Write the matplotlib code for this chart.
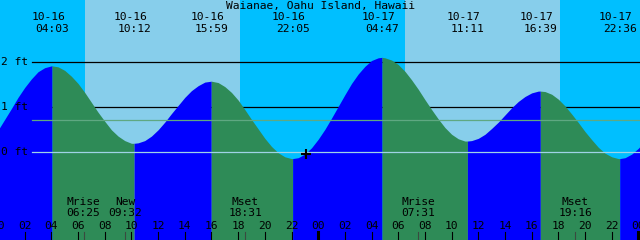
import matplotlib
matplotlib.use("Agg")
import matplotlib.pyplot as plt

# station / tide table (hi-lo events)
titulo = "Waianae, Oahu Island, Hawaii"
fechas_ev = ["10-16", "10-16", "10-16", "10-16", "10-17", "10-17", "10-17", "10-17"]
horas_ev = ["04:03", "10:12", "15:59", "22:05", "04:47", "11:11", "16:39", "22:36"]
alturas_ev = [1.92, 0.20, 1.58, -0.14, 2.11, 0.25, 1.36, -0.14]
es_alta = [True, False, True, False, True, False, True, False]

# heights (ft) every half hour, from 10-16 00:00 to 10-18 01:00
alturas = [0.49, 0.73, 0.97, 1.22, 1.44, 1.63, 1.79, 1.88, 1.92, 1.90,
           1.82, 1.69, 1.53, 1.33, 1.11, 0.89, 0.69, 0.50, 0.36, 0.26,
           0.20, 0.21, 0.26, 0.36, 0.50, 0.67, 0.86, 1.04, 1.22, 1.37,
           1.48, 1.56, 1.58, 1.55, 1.46, 1.33, 1.16, 0.95, 0.73, 0.52,
           0.31, 0.13, -0.01, -0.10, -0.14, -0.12, -0.04, 0.10, 0.29, 0.51,
           0.76, 1.02, 1.28, 1.53, 1.74, 1.91, 2.04, 2.10, 2.10, 2.05,
           1.95, 1.80, 1.61, 1.40, 1.17, 0.95, 0.74, 0.55, 0.40, 0.30,
           0.25, 0.26, 0.31, 0.40, 0.53, 0.67, 0.83, 0.99, 1.13, 1.24,
           1.32, 1.36, 1.35, 1.29, 1.18, 1.03, 0.85, 0.66, 0.46, 0.28,
           0.11, -0.02, -0.10, -0.14, -0.12, -0.04, 0.09, 0.26, 0.48]

# sun and moon
amanecer = ["06:31", "06:31"]
atardecer = ["18:08", "18:08"]
luna_dia = [0, 0, 0, 1, 1]
luna_hora = ["06:25", "09:32", "18:31", "07:31", "19:16"]
luna_txt = ["Mrise", "New", "Mset", "Mrise", "Mset"]

ahora = 23.05          # current-time marker
ahora_altura = -0.04
nivel_medio = 0.71     # mean sea level line


def a_horas(hhmm, dia=0):
    h, m = hhmm.split(":")
    return 24 * dia + int(h) + int(m) / 60


dias_ev = [0 if f == "10-16" else 1 for f in fechas_ev]
t_ev = [a_horas(h, d) for h, d in zip(horas_ev, dias_ev)]

puntos = sorted([(i * 0.5, a) for i, a in enumerate(alturas)] + list(zip(t_ev, alturas_ev)))
t = [p[0] for p in puntos]
y = [p[1] for p in puntos]

X0, X1 = 0.15, 48.12
Y0, Y1 = (152.3 - 240) / 45, 152.3 / 45

fig = plt.figure(figsize=(6.4, 2.4), dpi=100)
fig.patch.set_facecolor("#00BFFF")
ax = fig.add_axes([0, 0, 1, 1])
ax.set_xlim(X0, X1)
ax.set_ylim(Y0, Y1)
ax.axis("off")

for d, (sr, ss) in enumerate(zip(amanecer, atardecer)):
    ax.axvspan(a_horas(sr, d), a_horas(ss, d), color="#87CEEB", lw=0, zorder=0.5)

for nivel in (1, 2):
    ax.axhline(nivel, xmin=0.05, color="black", lw=0.9, zorder=1)

# fill under the curve: rising = blue, falling = green
limites = [t[0]] + t_ev + [t[-1]]
for i in range(len(limites) - 1):
    a, b = limites[i], limites[i + 1]
    sel = [(tt, yy) for tt, yy in zip(t, y) if a <= tt <= b]
    cayendo = i > 0 and es_alta[i - 1]
    ax.fill_between([s[0] for s in sel], [s[1] for s in sel], Y0,
                    color="#2E8B57" if cayendo else "#0000FF", lw=0, zorder=2)

ax.axhline(nivel_medio, xmin=0.05, color="#5fa882", lw=0.9, zorder=3)
ax.axhline(0, xmin=0.05, color="#9fd3e6", lw=0.9, zorder=3)
ax.plot([ahora], [ahora_altura], marker="+", color="black", ms=7, mew=1.5, zorder=4)

fuente = dict(family="DejaVu Sans Mono", fontsize=8.1, color="black", zorder=5)
tr = ax.get_xaxis_transform()

for nivel in (0, 1, 2):
    ax.text(0.002, nivel, f"{nivel} ft", transform=ax.get_yaxis_transform(),
            ha="left", va="center", **fuente)

ax.text(0.5, 1 - 5.5 / 240, titulo, transform=ax.transAxes, ha="center", va="center", **fuente)
for te, f, h in zip(t_ev, fechas_ev, horas_ev):
    ax.text(te - 0.3, 1 - 17.5 / 240, f, transform=tr, ha="center", va="center", **fuente)
    ax.text(te, 1 - 29.3 / 240, h, transform=tr, ha="center", va="center", **fuente)

for d, h, txt in zip(luna_dia, luna_hora, luna_txt):
    tm = a_horas(h, d)
    ax.text(tm, 1 - 201.7 / 240, txt, transform=tr, ha="center", va="center", **fuente)
    ax.text(tm, 1 - 213.3 / 240, h, transform=tr, ha="center", va="center", **fuente)
    ax.plot([tm, tm], [0, 0.035], transform=tr, color="#3a4a40", lw=0.8, zorder=5, clip_on=False)

for hh in range(0, 50, 2):
    ax.text(hh, 1 - 225.7 / 240, f"{hh % 24:02d}", transform=tr, ha="center", va="center", **fuente)
    ancho = 2.2 if hh % 24 == 0 else 0.8
    ax.plot([hh, hh], [0, 0.035], transform=tr, color="black", lw=ancho, zorder=5, clip_on=False)

fig.savefig("out.png", dpi=100, facecolor=fig.get_facecolor())
